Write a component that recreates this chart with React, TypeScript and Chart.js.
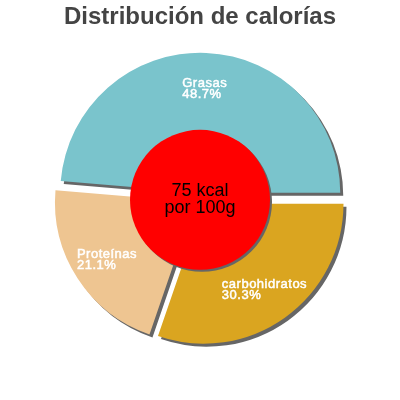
import { useEffect, useRef } from 'react';
import { Chart, registerables } from 'chart.js';

Chart.register(...registerables);

const chartTitle = 'Distribución de calorías';
const categories = ['carbohidratos', 'Proteínas', 'Grasas'];
const percentages = [30.3, 21.1, 48.7];
const sliceColors = ['rgb(218, 165, 32)', 'rgb(238, 197, 145)', 'rgb(122, 196, 204)'];
const centerLines = ['75 kcal', 'por 100g'];

const FONT = '"Liberation Sans", Arial, sans-serif';
const EXPLODE = 6;

// draws each slice pushed out along its middle angle, with a hard grey shadow
const explodePlugin = {
  id: 'explode',
  beforeDatasetDraw(chart: any, args: any) {
    const ctx = chart.ctx;
    ctx.save();
    ctx.shadowColor = '#666666';
    ctx.shadowOffsetX = 3;
    ctx.shadowOffsetY = 3;
    ctx.shadowBlur = 0;
    args.meta.data.forEach((arc: any) => {
      const p = arc.getProps(['startAngle', 'endAngle']);
      const mid = (p.startAngle + p.endAngle) / 2;
      ctx.save();
      ctx.translate(Math.cos(mid) * EXPLODE, Math.sin(mid) * EXPLODE);
      arc.draw(ctx);
      ctx.restore();
    });
    ctx.restore();
    return false;
  },
};

const overlayPlugin = {
  id: 'overlay',
  afterDatasetsDraw(chart: any) {
    const ctx = chart.ctx;
    const arcs = chart.getDatasetMeta(0).data;
    if (!arcs.length) return;
    const c = arcs[0].getProps(['x', 'y', 'outerRadius']);

    // red disc in the middle
    ctx.save();
    ctx.shadowColor = '#666666';
    ctx.shadowOffsetX = 2;
    ctx.shadowOffsetY = 2;
    ctx.beginPath();
    ctx.arc(c.x, c.y + 1, c.outerRadius / 2, 0, Math.PI * 2);
    ctx.fillStyle = '#ff0000';
    ctx.fill();
    ctx.restore();

    ctx.save();
    ctx.fillStyle = '#000000';
    ctx.font = `18px ${FONT}`;
    ctx.textAlign = 'center';
    ctx.textBaseline = 'alphabetic';
    ctx.fillText(centerLines[0], c.x, c.y - 3);
    ctx.fillText(centerLines[1], c.x, c.y + 14);
    ctx.restore();

    // slice labels
    ctx.save();
    ctx.fillStyle = '#ffffff';
    ctx.strokeStyle = '#ffffff';
    ctx.lineWidth = 0.5;
    ctx.font = `13px ${FONT}`;
    (ctx as any).letterSpacing = '0.5px';
    ctx.textAlign = 'left';
    ctx.textBaseline = 'alphabetic';
    arcs.forEach((arc: any, i: number) => {
      const p = arc.getProps(['x', 'y', 'startAngle', 'endAngle', 'outerRadius']);
      const mid = (p.startAngle + p.endAngle) / 2;
      const r = p.outerRadius * 0.75 + EXPLODE;
      const xc = p.x + Math.cos(mid) * r;
      const yc = p.y + Math.sin(mid) * r;
      const l1 = categories[i];
      const l2 = `${percentages[i]}%`;
      const w = Math.max(ctx.measureText(l1).width, ctx.measureText(l2).width);
      ctx.fillText(l1, xc - w / 2, yc - 1);
      ctx.strokeText(l1, xc - w / 2, yc - 1);
      ctx.fillText(l2, xc - w / 2, yc + 10);
      ctx.strokeText(l2, xc - w / 2, yc + 10);
    });
    ctx.restore();
  },
};

export default function App() {
  const chartRef = useRef<HTMLCanvasElement>(null);
  const chartInstance = useRef<Chart | null>(null);

  useEffect(() => {
    document.body.style.margin = '0';
    if (!chartRef.current) return;
    if (chartInstance.current) {
      chartInstance.current.destroy();
    }
    const ctx = chartRef.current.getContext('2d');
    if (!ctx) return;

    chartInstance.current = new Chart(ctx, {
      type: 'pie',
      data: {
        labels: categories,
        datasets: [
          {
            data: percentages,
            backgroundColor: sliceColors,
            borderWidth: 0,
          },
        ],
      },
      options: {
        responsive: false,
        animation: false,
        rotation: 90,
        radius: 140,
        layout: { padding: { bottom: 34 } },
        plugins: {
          legend: { display: false },
          tooltip: { enabled: false },
          title: {
            display: true,
            text: chartTitle,
            color: '#444444',
            font: { family: FONT, size: 24, weight: 'bold', lineHeight: 1.15 },
            padding: { top: 4, bottom: 0 },
          },
        },
      },
      plugins: [explodePlugin, overlayPlugin],
    });

    return () => {
      if (chartInstance.current) {
        chartInstance.current.destroy();
        chartInstance.current = null;
      }
    };
  }, []);

  return (
    <div style={{ width: 400, height: 400, background: '#ffffff' }}>
      <canvas ref={chartRef} width={400} height={400}></canvas>
    </div>
  );
}
